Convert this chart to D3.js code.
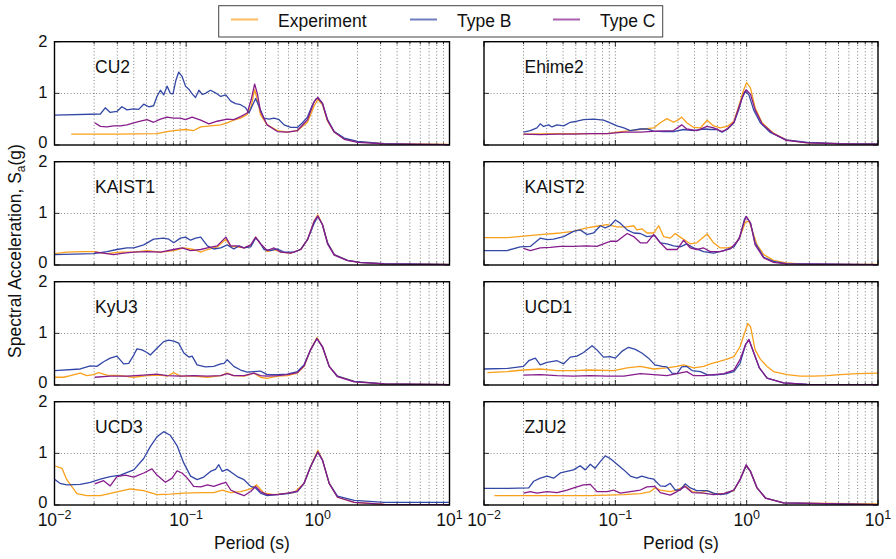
<!DOCTYPE html>
<html><head><meta charset="utf-8">
<script src="https://cdn.jsdelivr.net/npm/d3@7"></script>
<style>
body{margin:0;background:#fff;}
svg{display:block;font-family:"Liberation Sans",Arial,Helvetica,sans-serif;}
</style></head>
<body><svg id="c" width="896" height="559"></svg>
<script>
const panelNames = ["CU2","Ehime2","KAIST1","KAIST2","KyU3","UCD1","UCD3","ZJU2"];
const seriesNames = ["Experiment","Type B","Type C"];
const xTickValues = [0.01,0.1,1,10];
const xTickExps = ["−2","−1","0","1"];
const yTickValues = [0,1,2];

// [period (s), Sa (g)]
const cu2Exp = [[0.0134,0.21],[0.03,0.21],[0.06,0.22],[0.0716,0.26],[0.0805,0.28],[0.0988,0.30],[0.114,0.28],[0.129,0.35],[0.153,0.37],[0.183,0.39],[0.205,0.43],[0.23,0.48],[0.259,0.52],[0.291,0.59],[0.312,0.75],[0.331,1.07],[0.347,0.88],[0.367,0.59],[0.412,0.39],[0.493,0.28],[0.587,0.25],[0.70,0.28],[0.834,0.44],[0.938,0.76],[1.0,0.88],[1.085,0.78],[1.185,0.46],[1.332,0.25],[1.587,0.12],[2.0,0.06],[3.2,0.026],[10,0.013]];
const cu2B = [[0.01,0.58],[0.0223,0.60],[0.0243,0.72],[0.0265,0.63],[0.0298,0.65],[0.0325,0.74],[0.0355,0.68],[0.040,0.70],[0.0436,0.69],[0.0476,0.79],[0.052,0.74],[0.0566,0.76],[0.060,0.94],[0.0637,1.06],[0.0675,0.97],[0.0716,1.14],[0.0758,1.00],[0.0794,0.99],[0.0837,1.26],[0.0877,1.41],[0.093,1.33],[0.0988,1.14],[0.1048,1.08],[0.111,0.99],[0.1178,0.92],[0.125,1.06],[0.1324,0.98],[0.140,1.0],[0.153,1.06],[0.167,1.01],[0.183,0.94],[0.20,0.97],[0.218,0.85],[0.237,0.80],[0.259,0.78],[0.283,0.72],[0.30,0.62],[0.318,0.76],[0.337,0.90],[0.357,0.75],[0.39,0.52],[0.426,0.50],[0.465,0.52],[0.508,0.49],[0.554,0.39],[0.623,0.34],[0.70,0.34],[0.764,0.43],[0.834,0.54],[0.911,0.78],[0.966,0.89],[1.0,0.91],[1.085,0.80],[1.185,0.49],[1.332,0.26],[1.587,0.135],[2.0,0.07],[3.2,0.026],[5.74,0.013],[10,0.008]];
const cu2C = [[0.0202,0.43],[0.0223,0.36],[0.025,0.35],[0.0281,0.37],[0.0316,0.37],[0.0355,0.39],[0.040,0.43],[0.045,0.46],[0.0504,0.49],[0.0566,0.44],[0.0637,0.50],[0.0716,0.54],[0.0805,0.52],[0.0904,0.52],[0.0988,0.49],[0.111,0.54],[0.129,0.48],[0.149,0.41],[0.172,0.46],[0.205,0.50],[0.23,0.49],[0.259,0.55],[0.291,0.62],[0.312,0.88],[0.331,1.18],[0.347,1.0],[0.367,0.65],[0.412,0.39],[0.493,0.26],[0.587,0.25],[0.70,0.28],[0.834,0.49],[0.938,0.84],[1.0,0.92],[1.085,0.81],[1.185,0.48],[1.332,0.25],[1.587,0.11],[2.0,0.05],[3.2,0.02],[10,0.006]];

const ehimeExp = [[0.02,0.21],[0.036,0.22],[0.0645,0.22],[0.0866,0.22],[0.103,0.25],[0.130,0.28],[0.164,0.31],[0.196,0.33],[0.22,0.43],[0.247,0.51],[0.278,0.44],[0.303,0.49],[0.32,0.54],[0.35,0.43],[0.395,0.34],[0.444,0.33],[0.50,0.48],[0.56,0.37],[0.63,0.33],[0.71,0.36],[0.80,0.46],[0.87,0.75],[0.95,1.07],[1.0,1.21],[1.07,1.10],[1.16,0.72],[1.31,0.43],[1.6,0.23],[2.0,0.10],[2.9,0.04],[5.2,0.026],[10,0.026]];
const ehimeB = [[0.02,0.25],[0.0225,0.28],[0.0253,0.33],[0.0268,0.41],[0.0284,0.36],[0.0311,0.39],[0.0329,0.35],[0.036,0.39],[0.0404,0.37],[0.0454,0.44],[0.051,0.46],[0.0573,0.49],[0.0683,0.50],[0.0813,0.48],[0.0914,0.43],[0.103,0.37],[0.116,0.33],[0.130,0.28],[0.155,0.31],[0.174,0.31],[0.196,0.27],[0.233,0.26],[0.278,0.26],[0.331,0.30],[0.395,0.28],[0.47,0.31],[0.528,0.30],[0.594,0.30],[0.648,0.25],[0.71,0.30],[0.80,0.43],[0.87,0.68],[0.92,0.90],[0.98,1.04],[1.04,0.97],[1.13,0.68],[1.27,0.43],[1.5,0.25],[2.0,0.10],[2.9,0.05],[5.2,0.025],[10,0.02]];
const ehimeC = [[0.02,0.21],[0.0268,0.20],[0.036,0.21],[0.048,0.21],[0.0645,0.22],[0.0866,0.22],[0.116,0.25],[0.155,0.25],[0.208,0.27],[0.278,0.28],[0.32,0.39],[0.35,0.31],[0.417,0.28],[0.50,0.36],[0.56,0.33],[0.648,0.26],[0.71,0.31],[0.80,0.44],[0.87,0.72],[0.95,1.0],[0.99,1.07],[1.07,0.98],[1.16,0.68],[1.31,0.41],[1.6,0.22],[2.0,0.09],[2.9,0.04],[5.2,0.02],[10,0.013]];

const kaist1Exp = [[0.01,0.22],[0.0124,0.25],[0.0166,0.26],[0.0198,0.26],[0.025,0.22],[0.0316,0.25],[0.040,0.25],[0.0504,0.28],[0.0637,0.25],[0.0805,0.28],[0.096,0.33],[0.114,0.30],[0.129,0.25],[0.145,0.30],[0.172,0.35],[0.20,0.50],[0.218,0.36],[0.244,0.35],[0.275,0.33],[0.309,0.37],[0.337,0.54],[0.367,0.41],[0.412,0.26],[0.465,0.30],[0.523,0.25],[0.623,0.23],[0.74,0.30],[0.834,0.49],[0.938,0.85],[1.0,0.97],[1.085,0.78],[1.185,0.43],[1.332,0.20],[1.68,0.09],[2.1,0.05],[3.2,0.02],[10,0.013]];
const kaist1B = [[0.01,0.20],[0.0198,0.22],[0.025,0.26],[0.0298,0.30],[0.0355,0.33],[0.040,0.33],[0.0476,0.39],[0.0566,0.50],[0.0675,0.52],[0.0738,0.50],[0.0805,0.43],[0.0904,0.52],[0.0988,0.54],[0.108,0.48],[0.118,0.52],[0.129,0.54],[0.145,0.37],[0.162,0.31],[0.183,0.33],[0.205,0.39],[0.23,0.31],[0.252,0.37],[0.275,0.33],[0.309,0.35],[0.337,0.52],[0.357,0.46],[0.39,0.30],[0.438,0.28],[0.493,0.31],[0.554,0.25],[0.66,0.25],[0.74,0.30],[0.834,0.49],[0.938,0.81],[1.0,0.94],[1.085,0.78],[1.185,0.43],[1.332,0.20],[1.68,0.09],[2.1,0.05],[3.2,0.026],[10,0.013]];
const kaist1C = [[0.0202,0.25],[0.0236,0.23],[0.0281,0.20],[0.0335,0.23],[0.040,0.25],[0.0504,0.26],[0.0637,0.25],[0.0805,0.30],[0.093,0.33],[0.108,0.28],[0.129,0.30],[0.145,0.33],[0.172,0.37],[0.20,0.54],[0.218,0.37],[0.244,0.37],[0.275,0.33],[0.309,0.39],[0.337,0.54],[0.367,0.41],[0.412,0.28],[0.465,0.33],[0.523,0.25],[0.623,0.23],[0.74,0.30],[0.834,0.49],[0.938,0.85],[1.0,0.95],[1.085,0.78],[1.185,0.41],[1.332,0.19],[1.68,0.085],[2.1,0.045],[3.2,0.02],[10,0.006]];

const kaist2Exp = [[0.01,0.53],[0.015,0.53],[0.02,0.56],[0.0268,0.59],[0.0381,0.62],[0.048,0.65],[0.0607,0.72],[0.0724,0.75],[0.0866,0.78],[0.103,0.74],[0.123,0.74],[0.138,0.76],[0.146,0.68],[0.159,0.70],[0.174,0.62],[0.196,0.62],[0.214,0.76],[0.233,0.55],[0.262,0.52],[0.286,0.61],[0.312,0.54],[0.372,0.41],[0.417,0.43],[0.50,0.60],[0.56,0.43],[0.63,0.33],[0.71,0.33],[0.80,0.36],[0.89,0.55],[0.98,0.83],[1.04,0.85],[1.10,0.68],[1.2,0.39],[1.35,0.20],[1.6,0.09],[2.0,0.04],[2.9,0.013],[10,0.013]];
const kaist2B = [[0.01,0.28],[0.015,0.28],[0.0189,0.35],[0.0225,0.36],[0.0268,0.52],[0.0302,0.49],[0.0339,0.50],[0.0404,0.55],[0.048,0.65],[0.054,0.68],[0.0607,0.59],[0.0683,0.62],[0.0768,0.76],[0.0837,0.72],[0.0914,0.76],[0.10,0.87],[0.109,0.81],[0.123,0.68],[0.138,0.62],[0.155,0.61],[0.174,0.55],[0.20,0.57],[0.22,0.43],[0.247,0.41],[0.278,0.37],[0.312,0.35],[0.35,0.41],[0.395,0.33],[0.47,0.26],[0.56,0.23],[0.67,0.28],[0.80,0.35],[0.89,0.55],[0.96,0.88],[0.99,0.94],[1.07,0.81],[1.16,0.43],[1.35,0.15],[1.6,0.07],[2.0,0.026],[10,0.006]];
const kaist2C = [[0.02,0.32],[0.0225,0.28],[0.0268,0.33],[0.032,0.34],[0.0381,0.36],[0.048,0.36],[0.0607,0.37],[0.0724,0.36],[0.0813,0.41],[0.0914,0.46],[0.103,0.46],[0.123,0.61],[0.138,0.55],[0.155,0.43],[0.174,0.43],[0.196,0.59],[0.22,0.43],[0.247,0.30],[0.295,0.30],[0.331,0.48],[0.372,0.33],[0.417,0.30],[0.47,0.33],[0.528,0.26],[0.63,0.26],[0.75,0.31],[0.87,0.49],[0.95,0.81],[0.99,0.94],[1.07,0.81],[1.16,0.39],[1.35,0.135],[1.6,0.05],[2.0,0.02],[10,0.006]];

const kyu3Exp = [[0.01,0.15],[0.0117,0.15],[0.0132,0.18],[0.0157,0.23],[0.0176,0.18],[0.0198,0.20],[0.0216,0.24],[0.025,0.19],[0.0316,0.18],[0.040,0.15],[0.0504,0.18],[0.0637,0.19],[0.0716,0.17],[0.0805,0.24],[0.0904,0.17],[0.114,0.17],[0.145,0.15],[0.183,0.18],[0.205,0.23],[0.23,0.18],[0.275,0.17],[0.327,0.23],[0.367,0.15],[0.412,0.13],[0.493,0.17],[0.587,0.18],[0.70,0.23],[0.786,0.36],[0.88,0.68],[0.985,0.92],[1.085,0.74],[1.22,0.36],[1.41,0.17],[1.89,0.07],[3.2,0.02],[10,0.006]];
const kyu3B = [[0.01,0.28],[0.0157,0.31],[0.0187,0.37],[0.021,0.36],[0.0236,0.45],[0.0265,0.52],[0.0298,0.56],[0.0335,0.41],[0.0366,0.42],[0.040,0.58],[0.0423,0.70],[0.0462,0.68],[0.0504,0.63],[0.0534,0.58],[0.060,0.71],[0.0675,0.84],[0.0738,0.87],[0.0805,0.85],[0.0877,0.81],[0.096,0.62],[0.1048,0.54],[0.111,0.56],[0.121,0.39],[0.140,0.35],[0.162,0.36],[0.183,0.41],[0.194,0.42],[0.205,0.49],[0.23,0.36],[0.259,0.29],[0.291,0.25],[0.327,0.26],[0.367,0.27],[0.412,0.20],[0.493,0.20],[0.587,0.21],[0.70,0.26],[0.786,0.39],[0.88,0.68],[0.985,0.90],[1.085,0.74],[1.22,0.36],[1.41,0.17],[1.89,0.07],[3.2,0.02],[10,0.006]];
const kyu3C = [[0.0202,0.15],[0.0265,0.17],[0.0355,0.17],[0.0476,0.19],[0.060,0.21],[0.0716,0.18],[0.0904,0.17],[0.114,0.18],[0.145,0.17],[0.183,0.18],[0.205,0.22],[0.23,0.18],[0.275,0.18],[0.327,0.23],[0.367,0.18],[0.412,0.17],[0.493,0.18],[0.587,0.20],[0.70,0.24],[0.786,0.37],[0.88,0.68],[0.985,0.90],[1.085,0.74],[1.22,0.36],[1.41,0.16],[1.89,0.06],[3.2,0.02],[10,0.006]];

const ucd1Exp = [[0.0106,0.24],[0.015,0.26],[0.02,0.29],[0.0268,0.31],[0.036,0.28],[0.048,0.28],[0.0645,0.29],[0.097,0.28],[0.123,0.33],[0.155,0.36],[0.196,0.31],[0.247,0.33],[0.295,0.36],[0.331,0.39],[0.395,0.33],[0.47,0.36],[0.528,0.41],[0.63,0.46],[0.71,0.50],[0.80,0.55],[0.89,0.74],[0.98,1.06],[1.02,1.19],[1.07,1.13],[1.16,0.68],[1.27,0.50],[1.43,0.36],[1.6,0.26],[2.03,0.20],[2.56,0.17],[3.23,0.17],[4.09,0.18],[5.16,0.20],[6.9,0.22],[10,0.23]];
const ucd1B = [[0.01,0.31],[0.015,0.32],[0.02,0.36],[0.0219,0.47],[0.0246,0.52],[0.0268,0.39],[0.0302,0.44],[0.036,0.47],[0.0404,0.41],[0.0454,0.54],[0.051,0.56],[0.0573,0.63],[0.0665,0.76],[0.0724,0.68],[0.0813,0.54],[0.0914,0.55],[0.10,0.52],[0.112,0.65],[0.126,0.73],[0.142,0.69],[0.159,0.62],[0.179,0.52],[0.20,0.39],[0.227,0.36],[0.247,0.35],[0.27,0.23],[0.295,0.22],[0.32,0.35],[0.35,0.36],[0.384,0.28],[0.444,0.26],[0.50,0.20],[0.56,0.19],[0.67,0.21],[0.80,0.26],[0.89,0.42],[0.98,0.78],[1.04,0.88],[1.10,0.71],[1.25,0.33],[1.43,0.135],[1.91,0.04],[2.9,0.013],[10,0.006]];
const ucd1C = [[0.02,0.19],[0.0268,0.20],[0.036,0.18],[0.048,0.17],[0.0645,0.18],[0.0866,0.17],[0.116,0.17],[0.155,0.22],[0.196,0.20],[0.247,0.18],[0.295,0.22],[0.35,0.26],[0.395,0.18],[0.47,0.18],[0.56,0.20],[0.67,0.22],[0.80,0.29],[0.89,0.49],[0.98,0.78],[1.04,0.88],[1.10,0.71],[1.25,0.33],[1.43,0.135],[1.91,0.04],[2.9,0.013],[10,0.006]];

const ucd3Exp = [[0.01,0.76],[0.0114,0.71],[0.0124,0.49],[0.0148,0.22],[0.0176,0.18],[0.0223,0.18],[0.0281,0.24],[0.0377,0.31],[0.0476,0.28],[0.060,0.20],[0.0758,0.21],[0.096,0.23],[0.129,0.24],[0.162,0.24],[0.188,0.29],[0.218,0.24],[0.259,0.26],[0.309,0.31],[0.343,0.39],[0.39,0.23],[0.465,0.20],[0.554,0.22],[0.66,0.24],[0.786,0.42],[0.88,0.74],[1.0,1.06],[1.085,0.87],[1.22,0.42],[1.41,0.15],[1.89,0.05],[3.2,0.013],[10,0.006]];
const ucd3B = [[0.01,0.50],[0.011,0.42],[0.0124,0.39],[0.0157,0.40],[0.0187,0.44],[0.0223,0.50],[0.0265,0.55],[0.0316,0.58],[0.040,0.68],[0.0476,0.90],[0.0534,1.13],[0.060,1.32],[0.0675,1.42],[0.0758,1.35],[0.0852,1.15],[0.096,0.81],[0.108,0.56],[0.121,0.49],[0.136,0.54],[0.153,0.65],[0.167,0.69],[0.177,0.78],[0.188,0.65],[0.205,0.69],[0.224,0.62],[0.244,0.55],[0.275,0.49],[0.309,0.36],[0.337,0.33],[0.367,0.23],[0.412,0.18],[0.493,0.20],[0.587,0.22],[0.70,0.26],[0.786,0.42],[0.88,0.74],[1.0,1.03],[1.085,0.87],[1.22,0.42],[1.41,0.17],[1.89,0.09],[3.2,0.05],[10,0.05]];
const ucd3C = [[0.0202,0.41],[0.0236,0.47],[0.0265,0.37],[0.0298,0.55],[0.0345,0.58],[0.040,0.54],[0.0476,0.62],[0.055,0.70],[0.060,0.58],[0.0696,0.44],[0.0782,0.52],[0.0852,0.66],[0.093,0.62],[0.102,0.52],[0.114,0.36],[0.129,0.35],[0.145,0.39],[0.162,0.36],[0.183,0.41],[0.20,0.44],[0.218,0.29],[0.244,0.23],[0.275,0.18],[0.309,0.26],[0.337,0.36],[0.367,0.26],[0.412,0.20],[0.493,0.20],[0.587,0.23],[0.70,0.27],[0.786,0.42],[0.88,0.74],[1.0,1.02],[1.085,0.87],[1.22,0.42],[1.41,0.15],[1.89,0.05],[3.2,0.013],[10,0.006]];

const zju2Exp = [[0.012,0.18],[0.02,0.18],[0.036,0.18],[0.0645,0.18],[0.0866,0.19],[0.116,0.20],[0.155,0.22],[0.185,0.26],[0.20,0.33],[0.22,0.29],[0.262,0.26],[0.295,0.29],[0.34,0.37],[0.384,0.26],[0.444,0.24],[0.50,0.28],[0.56,0.22],[0.67,0.22],[0.80,0.28],[0.89,0.49],[0.99,0.76],[1.07,0.65],[1.2,0.33],[1.39,0.135],[1.91,0.04],[10,0.02]];
const zju2B = [[0.01,0.32],[0.015,0.32],[0.0219,0.33],[0.0239,0.46],[0.0268,0.52],[0.0302,0.56],[0.0339,0.52],[0.0381,0.62],[0.0428,0.65],[0.048,0.68],[0.054,0.76],[0.059,0.68],[0.0645,0.79],[0.070,0.71],[0.0768,0.84],[0.0837,0.95],[0.0914,0.90],[0.103,0.79],[0.116,0.68],[0.130,0.56],[0.146,0.52],[0.159,0.56],[0.179,0.52],[0.196,0.50],[0.22,0.37],[0.24,0.36],[0.262,0.42],[0.286,0.29],[0.312,0.29],[0.34,0.41],[0.372,0.33],[0.417,0.28],[0.50,0.28],[0.56,0.23],[0.63,0.20],[0.71,0.22],[0.80,0.29],[0.89,0.49],[0.99,0.76],[1.07,0.65],[1.2,0.33],[1.39,0.135],[1.91,0.04],[10,0.006]];
const zju2C = [[0.02,0.23],[0.0225,0.26],[0.0253,0.23],[0.0302,0.26],[0.036,0.24],[0.0428,0.29],[0.051,0.35],[0.0573,0.39],[0.0645,0.40],[0.0724,0.26],[0.0866,0.26],[0.097,0.29],[0.109,0.23],[0.130,0.26],[0.155,0.29],[0.174,0.35],[0.20,0.36],[0.22,0.24],[0.262,0.19],[0.295,0.26],[0.34,0.36],[0.384,0.24],[0.47,0.23],[0.56,0.20],[0.67,0.22],[0.80,0.29],[0.89,0.49],[0.99,0.78],[1.07,0.65],[1.2,0.33],[1.39,0.135],[1.91,0.04],[10,0.006]];

const panelSeries = [
  [cu2Exp,cu2B,cu2C],[ehimeExp,ehimeB,ehimeC],
  [kaist1Exp,kaist1B,kaist1C],[kaist2Exp,kaist2B,kaist2C],
  [kyu3Exp,kyu3B,kyu3C],[ucd1Exp,ucd1B,ucd1C],
  [ucd3Exp,ucd3B,ucd3C],[zju2Exp,zju2B,zju2C]
];
const colors = ["#f9a01b","#3347a6","#861c8c"];

const svg = d3.select("#c");
const colX = [[54.5,449.5],[484,878]];
const rowTop = [41.7,161.7,281.7,401.7];
const panelH = 103.3;
const fs = 17.5;
const yfs = 16.5;

const defs = svg.append("defs");

panelNames.forEach((name,i)=>{
  const col = i%2, row = Math.floor(i/2);
  const [x0,x1] = colX[col];
  const top = rowTop[row], bot = top+panelH;
  const x = d3.scaleLog().domain([0.01,10]).range([x0,x1]);
  const y = d3.scaleLinear().domain([0,2]).range([bot,top]);
  const g = svg.append("g");

  const gridX = [];
  [0.01,0.1,1].forEach(dec=>{ for(let m=1;m<=9;m++){ gridX.push(dec*m);} });
  g.append("g").selectAll("line").data(gridX.filter(v=>v>0.01)).join("line")
    .attr("x1",d=>x(d)).attr("x2",d=>x(d)).attr("y1",top).attr("y2",bot)
    .attr("stroke","#000").attr("stroke-width",0.7).attr("stroke-dasharray","1,2.2").attr("opacity",0.75);
  g.append("line").attr("x1",x0).attr("x2",x1).attr("y1",y(1)).attr("y2",y(1))
    .attr("stroke","#000").attr("stroke-width",0.7).attr("stroke-dasharray","1,2.2").attr("opacity",0.75);

  const minors = gridX.filter(v=>!xTickValues.includes(v));
  const tk = g.append("g").attr("stroke","#000").attr("stroke-width",0.8);
  minors.forEach(v=>{
    tk.append("line").attr("x1",x(v)).attr("x2",x(v)).attr("y1",bot).attr("y2",bot-2.5);
    tk.append("line").attr("x1",x(v)).attr("x2",x(v)).attr("y1",top).attr("y2",top+2.5);
  });
  xTickValues.forEach(v=>{
    tk.append("line").attr("x1",x(v)).attr("x2",x(v)).attr("y1",bot).attr("y2",bot-5);
    tk.append("line").attr("x1",x(v)).attr("x2",x(v)).attr("y1",top).attr("y2",top+5);
  });
  yTickValues.forEach(v=>{
    tk.append("line").attr("x1",x0).attr("x2",x0+5).attr("y1",y(v)).attr("y2",y(v));
    tk.append("line").attr("x1",x1).attr("x2",x1-5).attr("y1",y(v)).attr("y2",y(v));
  });

  const cid = "clip"+i;
  defs.append("clipPath").attr("id",cid).append("rect")
    .attr("x",x0).attr("y",top).attr("width",x1-x0).attr("height",panelH);

  const line = d3.line().x(d=>x(d[0])).y(d=>y(d[1]));
  const lg = g.append("g").attr("clip-path",`url(#${cid})`);
  panelSeries[i].forEach((s,k)=>{
    lg.append("path").attr("d",line(s)).attr("fill","none")
      .attr("stroke",colors[k]).attr("stroke-width",1.3).attr("stroke-linejoin","round");
  });

  g.append("rect").attr("x",x0).attr("y",top).attr("width",x1-x0).attr("height",panelH)
    .attr("fill","none").attr("stroke","#000").attr("stroke-width",1.4);

  g.append("text").attr("x",x0+40.5).attr("y",top+31).attr("font-size",fs).attr("fill","#111").text(name);

  if(col===0){
    yTickValues.forEach(v=>{
      g.append("text").attr("x",x0-7).attr("y",y(v)+(v===0?3.2:v===2?5.5:4.5)).attr("text-anchor","end")
        .attr("font-size",yfs).attr("fill","#111").text(v);
    });
  }
  if(row===3){
    xTickValues.forEach((v,j)=>{
      const t = g.append("text").attr("x",x(v)).attr("y",bot+21).attr("text-anchor","middle")
        .attr("font-size",fs).attr("fill","#111");
      t.append("tspan").text("10");
      t.append("tspan").attr("dy",-7).attr("font-size",12.5).text(xTickExps[j]);
    });
    g.append("text").attr("x",(x0+x1)/2).attr("y",549).attr("text-anchor","middle")
      .attr("font-size",fs).attr("fill","#111").text("Period (s)");
  }
});

const yl = svg.append("text").attr("transform","translate(21,251) rotate(-90)")
  .attr("text-anchor","middle").attr("font-size",fs).attr("fill","#111");
yl.append("tspan").text("Spectral Acceleration, S");
yl.append("tspan").attr("font-size",12).attr("dy",4).text("a");
yl.append("tspan").attr("dy",-4).text("(g)");

const leg = svg.append("g");
leg.append("rect").attr("x",218.7).attr("y",5.7).attr("width",444).attr("height",31.3)
  .attr("fill","#fff").attr("stroke","#444").attr("stroke-width",1);
const legLineX = [231,410,553];
const legTextX = [278,457,600];
seriesNames.forEach((s,k)=>{
  leg.append("line").attr("x1",legLineX[k]).attr("x2",legLineX[k]+27).attr("y1",19.5).attr("y2",19.5)
    .attr("stroke",colors[k]).attr("stroke-width",2).attr("opacity",0.7);
  leg.append("text").attr("x",legTextX[k]).attr("y",26.7).attr("font-size",fs).attr("fill","#111").text(s);
});
</script></body></html>
